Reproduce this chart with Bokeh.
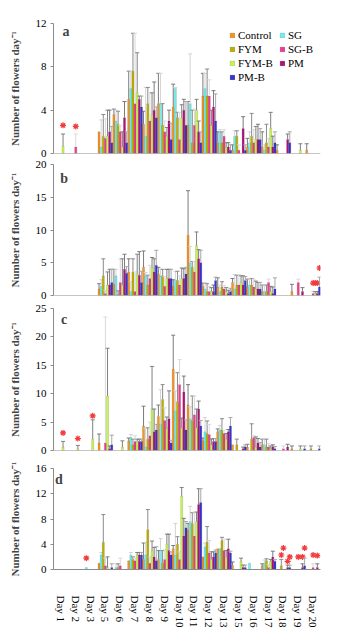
from bokeh.plotting import figure
from bokeh.models import (FactorRange, Range1d, FixedTicker, Span, Legend, LegendItem,
                          Label, ColumnDataSource)
from bokeh.transform import dodge
from bokeh.layouts import column
from bokeh.embed import file_html
from bokeh.resources import INLINE

days = ["Day 1", "Day 2", "Day 3", "Day 5", "Day 6", "Day 7", "Day 8", "Day 9", "Day 10",
        "Day 11", "Day 12", "Day 13", "Day 15", "Day 16", "Day 17", "Day 18", "Day 19", "Day 20"]
series = ["Control", "SG", "FYM", "SG-B", "FYM-B", "PM", "PM-B"]
colors = ["#F7941D", "#6FEFF0", "#BDB000", "#F03C8C", "#C8F550", "#B0107A", "#3535D0"]
err_colors = ["#7a7a7a", "#d4d4d4", "#8a8a8a", "#d9d9d9", "#808080", "#7a7a7a", "#a8a8a8"]

# rows = days, columns = series (Control, SG, FYM, SG-B, FYM-B, PM, PM-B)
a_means = [
    [0, 0, 0, 0, 0.7, 0, 0],
    [0, 0, 0, 0.6, 0, 0, 0],
    [0, 0, 0, 0, 0, 0, 0],
    [2.0, 0.6, 1.6, 1.4, 1.6, 2.0, 1.0],
    [3.6, 3.0, 2.7, 2.0, 0.6, 3.3, 1.0],
    [5.0, 6.0, 7.6, 4.6, 5.6, 5.0, 4.3],
    [2.7, 1.6, 4.6, 3.0, 3.6, 4.0, 3.3],
    [4.6, 4.6, 2.6, 2.0, 1.6, 3.0, 1.3],
    [4.3, 6.0, 3.3, 1.3, 3.3, 4.0, 2.6],
    [2.6, 4.6, 1.0, 2.6, 4.0, 2.0, 1.0],
    [5.3, 6.0, 5.3, 5.3, 2.6, 4.3, 3.0],
    [1.0, 2.0, 1.0, 1.6, 0.6, 0.6, 0.3],
    [0.3, 1.6, 1.6, 0.3, 0, 2.3, 0.3],
    [0.6, 1.0, 1.6, 1.0, 1.3, 1.3, 1.3],
    [0.6, 0.3, 1.0, 0.6, 2.3, 0.6, 1.0],
    [0.3, 0, 0, 0, 0, 1.3, 1.0],
    [0, 0, 0, 0, 0.3, 0, 0],
    [0.3, 0, 0, 0, 0, 0, 0],
]
a_errs = [
    [0, 0, 0, 0, 1.1, 0, 0],
    [0, 0, 0, 1.2, 0, 0, 0],
    [0, 0, 0, 0, 0, 0, 0],
    [0, 2.5, 2.0, 1.8, 2.4, 2.0, 1.5],
    [0.5, 1.0, 1.2, 0.6, 1.4, 1.5, 1.0],
    [2.6, 1.6, 3.5, 6.5, 3.7, 0.3, 1.0],
    [1.2, 4.5, 1.5, 2.6, 2.0, 2.6, 1.0],
    [2.8, 2.8, 2.0, 1.0, 0.8, 1.0, 1.5],
    [2.1, 0.1, 0.5, 2.5, 1.2, 1.0, 2.2],
    [2.2, 4.6, 3.0, 1.5, 1.0, 1.0, 1.0],
    [2.1, 1.4, 2.5, 1.5, 1.4, 1.5, 2.5],
    [1.0, 0.2, 1.0, 0.6, 0.4, 0.4, 0.5],
    [0.5, 0.5, 0.5, 0.5, 0, 1.1, 0.5],
    [0.8, 1.0, 2.1, 1.2, 1.2, 1.4, 1.0],
    [1.4, 0.5, 1.7, 0.8, 1.5, 1.0, 1.0],
    [0.5, 0, 0, 0, 0, 0.5, 1.0],
    [0, 0, 0, 0, 0.6, 0, 0],
    [0.6, 0, 0, 0, 0, 0, 0],
]
a_star_day = ["Day 1", "Day 2"]
a_star_ser = ["FYM-B", "SG-B"]
a_star_y = [2.6, 2.5]

b_means = [
    [0, 0, 0, 0, 0, 0, 0],
    [0, 0, 0, 0, 0, 0, 0],
    [0, 0, 0, 0, 0, 0, 0],
    [1.0, 1.4, 3.0, 0.3, 1.6, 1.6, 2.0],
    [1.7, 3.0, 0.2, 2.0, 1.6, 4.0, 3.4],
    [3.6, 0.6, 3.6, 0.6, 3.3, 3.1, 2.0],
    [4.3, 3.0, 1.6, 2.6, 4.3, 3.6, 4.6],
    [3.3, 3.0, 3.0, 1.4, 2.6, 2.6, 2.6],
    [1.4, 2.3, 2.3, 1.6, 2.6, 2.6, 3.3],
    [9.2, 5.0, 4.3, 3.6, 7.6, 5.6, 5.0],
    [1.4, 1.0, 0.6, 0.6, 0.6, 0.6, 2.3],
    [1.3, 0.6, 1.3, 1.0, 0.6, 0.3, 0.6],
    [2.0, 1.0, 1.6, 1.6, 2.0, 1.6, 2.3],
    [1.3, 1.6, 1.6, 1.3, 1.0, 1.0, 1.0],
    [0.6, 0.6, 0.6, 2.0, 0.6, 0.3, 1.0],
    [0, 0, 0, 0, 0, 0, 0],
    [0.6, 0, 0, 2.0, 0, 0.6, 0],
    [0, 0, 0, 0.3, 0.3, 0.3, 1.3],
]
b_errs = [
    [0, 0, 0, 0, 0, 0, 0],
    [0, 0, 0, 0, 0, 0, 0],
    [0, 0, 0, 0, 0, 0, 0],
    [0.8, 1.0, 2.6, 0.5, 2.0, 2.4, 2.0],
    [2.3, 1.0, 0.5, 3.6, 4.0, 2.3, 1.0],
    [2.0, 1.5, 2.0, 3.0, 3.0, 3.6, 1.7],
    [2.5, 0.5, 1.5, 2.0, 1.5, 2.0, 2.3],
    [1.0, 1.0, 1.0, 1.5, 1.4, 1.4, 1.4],
    [1.0, 1.4, 1.4, 1.4, 1.6, 1.5, 1.0],
    [6.8, 2.5, 0.9, 1.6, 2.1, 1.4, 1.9],
    [0.5, 1.0, 1.2, 0.8, 0.6, 1.0, 0.5],
    [1.4, 1.0, 0.8, 0.5, 0.6, 0.5, 0.5],
    [0.6, 2.2, 1.5, 1.6, 1.0, 1.4, 0.6],
    [1.2, 0.9, 1.0, 1.2, 1.2, 1.0, 1.0],
    [1.0, 1.0, 1.0, 0.5, 0.8, 1.0, 1.7],
    [0, 0, 0, 0, 0, 0, 0],
    [1.1, 0, 0, 0.5, 0, 0.6, 0],
    [0, 0, 0, 0.3, 0.3, 0.3, 1.5],
]
b_star_day = ["Day 20", "Day 20", "Day 20", "Day 20"]
b_star_ser = ["SG-B", "FYM-B", "PM", "PM-B"]
b_star_y = [1.9, 1.9, 1.9, 4.2]

c_means = [
    [0, 0, 0, 0, 0.6, 0, 0],
    [0, 0, 0, 0, 0.3, 0, 0],
    [0, 0, 0, 0, 2.0, 0, 0],
    [1.3, 0, 0, 1.3, 9.6, 0.3, 1.0],
    [0, 0, 0, 0, 0.6, 0, 0],
    [1.7, 2.3, 1.0, 1.6, 1.6, 1.6, 1.6],
    [4.3, 0.6, 2.0, 2.6, 7.3, 3.3, 3.6],
    [6.0, 4.6, 9.0, 5.3, 3.9, 5.6, 1.3],
    [14.3, 7.0, 8.6, 11.6, 4.0, 10.3, 3.6],
    [8.0, 5.6, 5.3, 6.3, 4.0, 7.3, 4.3],
    [1.7, 3.3, 3.0, 2.8, 1.0, 1.6, 1.6],
    [3.3, 3.6, 3.6, 3.0, 2.0, 3.3, 4.3],
    [1.0, 0, 1.0, 0, 0, 0.3, 0.6],
    [0.6, 0, 2.0, 2.3, 0.6, 1.3, 0.6],
    [1.0, 1.0, 0.6, 0.6, 0.3, 0.6, 0.3],
    [0, 0, 0, 0.3, 0, 0.6, 0],
    [0.3, 0, 0, 0, 0.3, 0, 0.3],
    [0, 0, 0.3, 0, 0, 0, 0.3],
]
c_errs = [
    [0, 0, 0, 0, 1.0, 0, 0],
    [0, 0, 0, 0, 0.6, 0, 0],
    [0, 0, 0, 0, 3.4, 0, 0],
    [1.6, 0, 0, 22.2, 8.4, 0.5, 1.7],
    [0, 0, 0, 0, 1.1, 0, 0],
    [0.5, 0.5, 1.0, 1.0, 0.4, 0.4, 0.4],
    [3.5, 3.3, 2.0, 2.4, 7.5, 4.0, 1.0],
    [2.0, 6.1, 2.6, 2.2, 2.0, 4.9, 0.5],
    [6.0, 3.5, 5.1, 4.4, 1.7, 2.8, 1.8],
    [3.6, 2.1, 4.3, 3.3, 3.3, 1.4, 1.0],
    [0.5, 2.5, 2.2, 1.8, 1.0, 0.5, 0.5],
    [0.5, 0.8, 2.0, 0.6, 1.0, 0.4, 1.5],
    [0, 0, 1.0, 0, 0, 0.3, 0.4],
    [0.5, 0, 2.7, 0.3, 1.8, 0.8, 0.8],
    [1.0, 1.0, 1.4, 0.6, 0.5, 0.4, 0.4],
    [0, 0, 0, 0.5, 0, 0.5, 0],
    [0.5, 0, 0, 0, 0.5, 0, 0.5],
    [0, 0, 0.5, 0, 0, 0, 0.5],
]
c_star_day = ["Day 1", "Day 2", "Day 3"]
c_star_ser = ["FYM-B", "FYM-B", "FYM-B"]
c_star_y = [3.1, 2.1, 6.1]

d_means = [
    [0, 0, 0, 0, 0, 0, 0],
    [0, 0, 0, 0, 0, 0, 0],
    [0, 0.3, 0, 0, 0, 0, 0],
    [1.0, 2.3, 4.3, 0.6, 0.3, 0, 0.3],
    [0, 0.3, 0.3, 0.6, 0, 0, 0],
    [1.4, 2.3, 1.6, 1.4, 2.3, 2.3, 2.3],
    [1.6, 2.3, 6.3, 1.0, 3.0, 2.0, 1.4],
    [1.6, 3.0, 1.0, 1.6, 4.0, 3.0, 2.3],
    [3.3, 2.3, 4.0, 1.6, 11.6, 5.3, 6.6],
    [6.3, 7.6, 7.3, 5.3, 7.6, 10.3, 10.6],
    [2.0, 3.6, 4.3, 2.6, 1.6, 2.0, 2.6],
    [3.3, 3.3, 4.6, 3.0, 2.0, 3.3, 2.6],
    [0.6, 0, 0, 0, 1.3, 0.3, 0.3],
    [0, 1.0, 0, 0, 0, 0, 0],
    [0.6, 1.0, 1.4, 0.3, 1.3, 2.0, 1.3],
    [0, 0, 0.6, 0, 0, 0.3, 0.3],
    [0, 0, 0, 0, 0, 0.3, 0.6],
    [0, 0, 0, 0.3, 0, 0.3, 0],
]
d_errs = [
    [0, 0, 0, 0, 0, 0, 0],
    [0, 0, 0, 0, 0, 0, 0],
    [0, 0, 0, 0, 0, 0, 0],
    [0, 0.4, 4.4, 1.2, 1.7, 0, 0.6],
    [0, 0.6, 0.6, 1.2, 0, 0, 0],
    [0, 0.4, 0.4, 0.4, 0.4, 0.4, 0.4],
    [2.6, 2.0, 3.2, 1.0, 1.5, 1.5, 2.2],
    [1.4, 1.9, 2.0, 1.5, 1.6, 2.6, 0.5],
    [0.5, 5.0, 1.2, 1.2, 1.4, 2.8, 1.0],
    [1.0, 2.4, 1.7, 3.8, 1.5, 2.5, 2.2],
    [0, 0.6, 2.5, 2.0, 1.2, 0.8, 0.5],
    [0, 0, 0.5, 1.8, 1.0, 1.5, 0.3],
    [0.6, 0, 0, 0, 0.5, 0.4, 0.4],
    [0, 0, 0, 0, 0, 0, 0],
    [0.3, 0.5, 0.3, 0.5, 0.3, 0.9, 0.3],
    [0, 0, 1.0, 0, 0, 0.4, 0.4],
    [0, 0, 0, 0, 0, 0.6, 1.2],
    [0, 0, 0, 0.6, 0, 0.6, 0],
]
d_star_day = ["Day 3", "Day 18", "Day 18", "Day 18", "Day 18", "Day 19", "Day 19", "Day 19",
              "Day 20", "Day 20"]
d_star_ser = ["SG", "FYM", "SG-B", "PM", "PM-B", "SG-B", "PM", "PM-B", "SG-B", "PM"]
d_star_y = [1.8, 2.3, 3.4, 1.3, 2.0, 2.0, 2.0, 3.4, 2.3, 2.2]

a_ticks = [0, 4, 8, 12]
b_ticks = [0, 5, 10, 15, 20]
c_ticks = [0, 5, 10, 15, 20, 25]
d_ticks = [0, 4, 8, 12, 16]

SERIF = "Liberation Serif"
AXIS_GREY = "#8c8c8c"


def make_panel(means, errs, s_day, s_ser, s_y, ymax, ticks, letter, lx, ly,
               height, btop, bbot, show_x):
    p = figure(x_range=FactorRange(factors=days), y_range=Range1d(0, ymax),
               width=332, height=height, output_backend="svg", toolbar_location=None,
               min_border_left=53, min_border_right=12, min_border_top=btop,
               min_border_bottom=bbot)
    p.outline_line_color = None
    p.xgrid.visible = False
    p.ygrid.visible = False
    renderers = []
    for i, name in enumerate(series):
        off = (i - 3) / 7.0
        rows = [k for k in range(len(days)) if means[k][i] > 0]
        src = ColumnDataSource(dict(day=[days[k] for k in rows],
                                    v=[means[k][i] for k in rows]))
        r = p.vbar(x=dodge("day", off, range=p.x_range), top="v", width=1 / 7.0,
                   source=src, fill_color=colors[i], line_color="#333333",
                   line_width=0.3, line_alpha=0.5)
        renderers.append(r)
        erows = [k for k in range(len(days)) if errs[k][i] > 0]
        esrc = ColumnDataSource(dict(day=[days[k] for k in erows],
                                     v=[means[k][i] for k in erows],
                                     t=[means[k][i] + errs[k][i] for k in erows]))
        xe = dodge("day", off, range=p.x_range)
        p.segment(x0=xe, y0="v", x1=xe, y1="t", source=esrc,
                  line_color=err_colors[i], line_width=1)
        p.scatter(x=xe, y="t", marker="dash", size=4, source=esrc,
                  line_color=err_colors[i], line_width=1)
        srows = [j for j in range(len(s_day)) if s_ser[j] == name]
        if srows:
            ssrc = ColumnDataSource(dict(day=[s_day[j] for j in srows],
                                         y=[s_y[j] for j in srows]))
            p.scatter(x=dodge("day", off, range=p.x_range), y="y", marker="asterisk",
                      size=6, source=ssrc, line_color="#F23B3B", line_width=1.2)
    yax = p.yaxis[0]
    yax.ticker = FixedTicker(ticks=ticks)
    yax.axis_label = "Number of flowers day\u207b\u00b9"
    yax.axis_label_text_font = SERIF
    yax.axis_label_text_font_style = "bold"
    yax.axis_label_text_font_size = "11px"
    yax.axis_label_standoff = 12
    yax.major_label_text_font = SERIF
    yax.major_label_text_font_size = "11px"
    yax.major_label_text_color = "black"
    yax.major_label_standoff = 4
    yax.major_tick_in = 0
    yax.major_tick_out = 3
    yax.minor_tick_line_color = None
    yax.axis_line_color = AXIS_GREY
    yax.major_tick_line_color = AXIS_GREY
    xax = p.xaxis[0]
    if show_x:
        xax.major_label_orientation = "vertical"
        xax.major_tick_line_color = None
        xax.minor_tick_line_color = None
        xax.major_label_standoff = 20
        xax.axis_line_color = AXIS_GREY
        xax.major_label_text_font = SERIF
        xax.major_label_text_font_size = "11px"
        xax.major_label_text_color = "black"
    else:
        xax.visible = False
        p.add_layout(Span(location=0, dimension="width", line_color=AXIS_GREY, line_width=1))
    p.add_layout(Label(x=lx, y=ly, text=letter, text_font=SERIF, text_font_style="bold",
                       text_font_size="14px", text_baseline="alphabetic", text_align="left"))
    return p, renderers


pa, ra = make_panel(a_means, a_errs, a_star_day, a_star_ser, a_star_y, 12, a_ticks,
                    "a", 0.6, 11.3, 158, 23, 5, False)
pb, _ = make_panel(b_means, b_errs, b_star_day, b_star_ser, b_star_y, 20, b_ticks,
                   "b", 0.45, 17.8, 142, 6, 5, False)
pc, _ = make_panel(c_means, c_errs, c_star_day, c_star_ser, c_star_y, 25, c_ticks,
                   "c", 0.5, 23.1, 155, 8, 5, False)
pd_, _ = make_panel(d_means, d_errs, d_star_day, d_star_ser, d_star_y, 16, d_ticks,
                    "d", 0.1, 14.2, 175, 13, 61, True)

leg_style = dict(border_line_color=None, background_fill_alpha=0, padding=0, margin=0,
                 spacing=0, label_height=14, glyph_height=6, glyph_width=6,
                 label_standoff=3, label_text_font=SERIF, label_text_font_size="11px",
                 label_text_color="black")
left_idx = [0, 2, 4, 6]
right_idx = [1, 3, 5]
leg1 = Legend(items=[LegendItem(label=series[i], renderers=[ra[i]]) for i in left_idx],
              location=(176, 69), **leg_style)
leg2 = Legend(items=[LegendItem(label=series[i], renderers=[ra[i]]) for i in right_idx],
              location=(226, 83), **leg_style)
pa.add_layout(leg1)
pa.add_layout(leg2)

layout = column(pa, pb, pc, pd_)
open("out.html", "w").write(file_html(layout, INLINE))
